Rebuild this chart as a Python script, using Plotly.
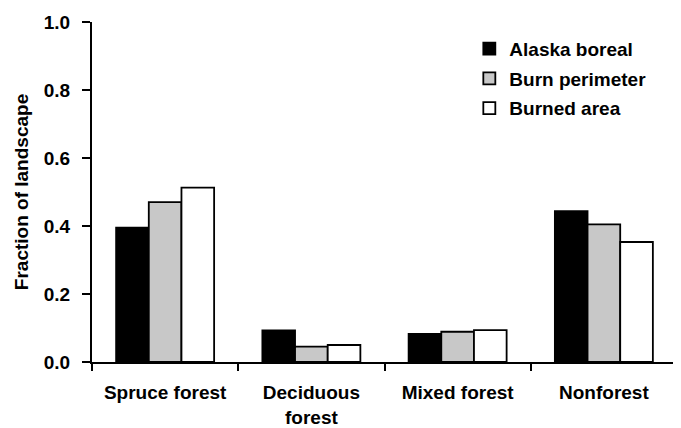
import plotly.graph_objects as go

categories = ["Spruce forest", "Deciduous<br>forest", "Mixed forest", "Nonforest"]
series_names = ["Alaska boreal", "Burn perimeter", "Burned area"]
alaska_boreal = [0.395, 0.093, 0.083, 0.444]
burn_perimeter = [0.470, 0.045, 0.089, 0.405]
burned_area = [0.513, 0.050, 0.094, 0.353]
y_ticks = [0.0, 0.2, 0.4, 0.6, 0.8, 1.0]
y_tick_labels = ["0.0", "0.2", "0.4", "0.6", "0.8", "1.0"]

colors = ["#000000", "#c8c8c8", "#ffffff"]
FONT = "Liberation Sans, Arial, sans-serif"

fig = go.Figure()
for name, vals, col in zip(series_names, [alaska_boreal, burn_perimeter, burned_area], colors):
    fig.add_trace(go.Bar(
        x=categories, y=vals, name=name, legendgroup=name,
        marker=dict(color=col, line=dict(color="#000000", width=1.8)),
    ))

fig.update_layout(
    width=681, height=428,
    margin=dict(l=84, r=12, t=14, b=74, autoexpand=False),
    paper_bgcolor="white", plot_bgcolor="white",
    barmode="group", bargap=0.33, bargroupgap=0.0,
    font=dict(family=FONT, size=19, color="#000000", weight="bold"),
    legend=dict(
        x=0.645, y=0.977, xanchor="left", yanchor="top",
        font=dict(family=FONT, size=19, color="#000000", weight="bold"),
        tracegroupgap=2, bgcolor="rgba(0,0,0,0)",
    ),
    showlegend=True,
)
fig.update_xaxes(
    showline=True, linecolor="#000000", linewidth=2,
    ticks="outside", tickson="boundaries", ticklen=7, tickwidth=2, tickcolor="#000000",
    ticklabelstandoff=12, showgrid=False, automargin=False,
    tickfont=dict(family=FONT, size=19, color="#000000", weight="bold"),
)
fig.update_yaxes(
    range=[0, 1.0], tickvals=y_ticks, ticktext=y_tick_labels,
    showline=True, linecolor="#000000", linewidth=2,
    ticks="outside", ticklen=8, tickwidth=2, tickcolor="#000000",
    ticklabelstandoff=8, showgrid=False, zeroline=False, automargin=False,
    tickfont=dict(family=FONT, size=19, color="#000000", weight="bold"),
    title=dict(text="Fraction of landscape", standoff=10,
               font=dict(family=FONT, size=19, color="#000000", weight="bold")),
)

fig.write_html("out.html")
